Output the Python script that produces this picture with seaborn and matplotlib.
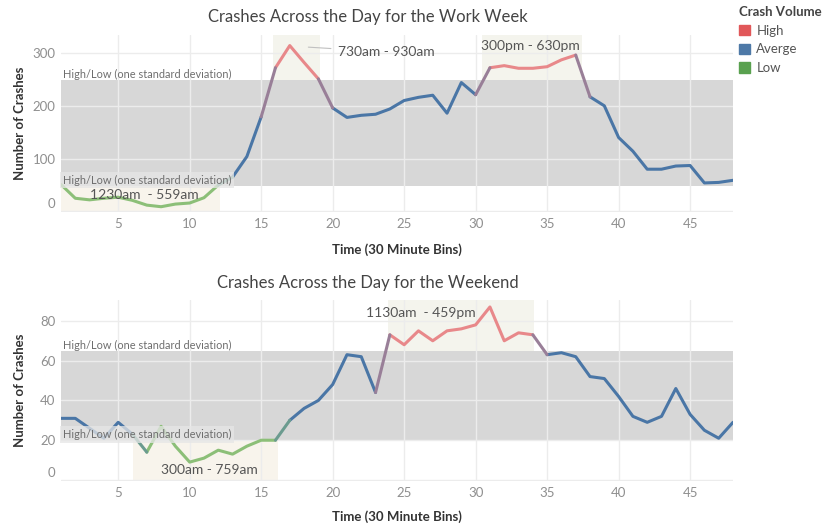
import matplotlib
matplotlib.use("Agg")
import matplotlib.pyplot as plt
import seaborn as sns
import pandas as pd
from matplotlib.colors import to_rgb
from matplotlib.patches import Patch
from matplotlib.transforms import ScaledTranslation

# Graph style
sns.set_style("whitegrid")
plt.rcParams["font.family"] = ["Lato", "DejaVu Sans"]


# =====================================================
# DATA
# =====================================================

bins = list(range(1, 49))

weekday_crashes = [
    51, 25, 22, 25, 27, 21, 12, 9, 14, 16, 26, 50,
    65, 104, 179, 272, 314, 282, 251, 196, 178, 182, 184, 194,
    210, 216, 220, 186, 244, 221, 272, 276, 271, 271, 274, 287,
    296, 217, 200, 140, 114, 80, 80, 86, 87, 54, 55, 59,
]

weekend_crashes = [
    31, 31, 26, 21, 29, 23, 14, 27, 17, 9, 11, 15,
    13, 17, 20, 20, 30, 36, 40, 48, 63, 62, 44, 73,
    68, 75, 70, 75, 76, 78, 87, 70, 74, 73, 63, 64,
    62, 52, 51, 42, 32, 29, 32, 46, 33, 25, 21, 29,
]

weekday_volume = (["Low"] * 12 + ["Averge"] * 3 + ["High"] * 4
                  + ["Averge"] * 11 + ["High"] * 7 + ["Averge"] * 11)
weekend_volume = (["Averge"] * 6 + ["Low"] * 10 + ["Averge"] * 7
                  + ["High"] * 11 + ["Averge"] * 14)

# one standard deviation band (low, high)
weekday_band = (49, 248)
weekend_band = (20, 65)

# highlighted time windows (start bin, end bin, kind)
weekday_windows = [(1, 12.1, "Low"), (15.8, 19.1, "High"), (30.45, 37.45, "High")]
weekend_windows = [(6.05, 16.15, "Low"), (23.85, 34.1, "High")]

# window labels (text, bin, crashes)
weekday_labels = [("1230am  - 559am", 6.8, 32), ("300pm - 630pm", 33.8, 313)]
weekend_labels = [("1130am  - 459pm", 26.2, 84), ("300am - 759am", 11.4, 5)]

legend_colors = {"High": "#e15759", "Averge": "#4e79a7", "Low": "#59a14f"}
line_colors = {"High": "#e8888a", "Averge": "#4a76a6", "Low": "#8cbf78"}
window_colors = {"High": "#f4f4ed", "Low": "#f8f4ec"}


# =====================================================
# HELPERS
# =====================================================

def blend(c1, c2):
    a = to_rgb(c1)
    b = to_rgb(c2)
    return tuple((x + y) / 2 for x, y in zip(a, b))


def draw_panel(ax, crashes, volume, band, windows, labels, ylim, yticks):

    ax.set_xlim(1, 48)
    ax.set_ylim(*ylim)

    # highlighted windows
    for start, end, kind in windows:
        if kind == "Low":
            lo, hi = ylim[0], band[0]
        else:
            lo, hi = band[1], ylim[1]
        ax.fill_between([start, end], lo, hi, color=window_colors[kind],
                        linewidth=0, zorder=0)

    # standard deviation band
    ax.axhspan(band[0], band[1], color="#d7d7d7", linewidth=0, zorder=0.2)

    # runs of the same volume class
    run = []
    run_id = 0
    for i in range(len(volume)):
        if i > 0 and volume[i] != volume[i - 1]:
            run_id += 1
        run.append(run_id)

    df = pd.DataFrame({
        "bin": bins,
        "crashes": crashes,
        "volume": volume,
        "run": run,
    })

    sns.lineplot(
        data=df,
        x="bin",
        y="crashes",
        hue="volume",
        units="run",
        estimator=None,
        palette=line_colors,
        linewidth=2.2,
        legend=False,
        solid_joinstyle="round",
        solid_capstyle="round",
        zorder=3,
        ax=ax
    )

    # transitions between classes
    for i in range(len(volume) - 1):
        if volume[i] != volume[i + 1]:
            sns.lineplot(
                x=bins[i:i + 2],
                y=crashes[i:i + 2],
                color=blend(line_colors[volume[i]], line_colors[volume[i + 1]]),
                linewidth=2.2,
                solid_capstyle="round",
                zorder=3,
                ax=ax
            )

    # band labels
    ax.text(1.15, band[1], "High/Low (one standard deviation)",
            fontsize=7.9, color="#6e6e6e", va="bottom", ha="left", zorder=5)
    ax.text(1.15, band[0], "High/Low (one standard deviation)",
            fontsize=7.9, color="#6e6e6e", va="bottom", ha="left", zorder=5,
            bbox=dict(boxstyle="square,pad=0.25", fc="#e6e6e6", ec="none",
                      alpha=0.75))

    for text, x, y in labels:
        ax.text(x, y, text, fontsize=10, color="#555555",
                ha="center", va="center", zorder=6)

    ax.set_xticks([5, 10, 15, 20, 25, 30, 35, 40, 45])
    ax.set_yticks(yticks)
    ax.tick_params(axis="both", labelsize=9.5, labelcolor="#8f8f8f",
                   length=0, pad=4)
    ax.grid(True, color="#ececec", linewidth=1)
    for spine in ax.spines.values():
        spine.set_visible(False)

    # zero label sits a little above its gridline, as in the original
    zero = ax.get_yticklabels()[0]
    zero.set_transform(zero.get_transform()
                       + ScaledTranslation(0, 8 / 100, ax.figure.dpi_scale_trans))

    ax.set_xlabel("Time (30 Minute Bins)", fontsize=9.5, fontweight="bold",
                  color="#333333")
    ax.set_ylabel("Number of Crashes", fontsize=9.5, fontweight="bold",
                  color="#333333")
    ax.yaxis.set_label_coords(-0.052, 0.5)


# =====================================================
# FIGURE
# =====================================================

fig = plt.figure(figsize=(8.28, 5.26), dpi=100)

ax_top = fig.add_axes([61 / 828, 1 - 212 / 526, 672 / 828, 177 / 526])
ax_bot = fig.add_axes([61 / 828, 1 - 481 / 526, 672 / 828, 181 / 526])

draw_panel(ax_top, weekday_crashes, weekday_volume, weekday_band,
           weekday_windows, weekday_labels, (-1, 334), [0, 100, 200, 300])
draw_panel(ax_bot, weekend_crashes, weekend_volume, weekend_band,
           weekend_windows, weekend_labels, (-0.5, 90.5), [0, 20, 40, 60, 80])

ax_top.xaxis.set_label_coords(0.5, -0.175)
ax_bot.xaxis.set_label_coords(0.5, -0.163)

# leader line for the morning peak
ax_top.annotate(
    "730am - 930am",
    xy=(18.3, 311),
    xytext=(20.4, 302),
    fontsize=10,
    color="#555555",
    va="center",
    ha="left",
    arrowprops=dict(arrowstyle="-", color="#c0c0c0", lw=0.8,
                    shrinkA=3, shrinkB=0),
    zorder=6
)

fig.text(368 / 828, 1 - 17 / 526, "Crashes Across the Day for the Work Week",
         fontsize=12, color="#444444", ha="center", va="center")
fig.text(368 / 828, 1 - 283 / 526, "Crashes Across the Day for the Weekend",
         fontsize=12, color="#444444", ha="center", va="center")

handles = [Patch(color=legend_colors[k], label=k) for k in ["High", "Averge", "Low"]]
leg = fig.legend(
    handles=handles,
    title="Crash Volume",
    loc="upper left",
    bbox_to_anchor=(734 / 828, 1 - 1 / 526),
    frameon=False,
    fontsize=9.5,
    title_fontproperties={"weight": "bold", "size": 9.5},
    handlelength=0.8,
    handleheight=0.8,
    handletextpad=0.5,
    labelspacing=0.5,
    borderaxespad=0
)
leg._legend_box.align = "left"
for t in leg.get_texts():
    t.set_color("#555555")
leg.get_title().set_color("#444444")

plt.savefig("out.png", dpi=100)
plt.close()
